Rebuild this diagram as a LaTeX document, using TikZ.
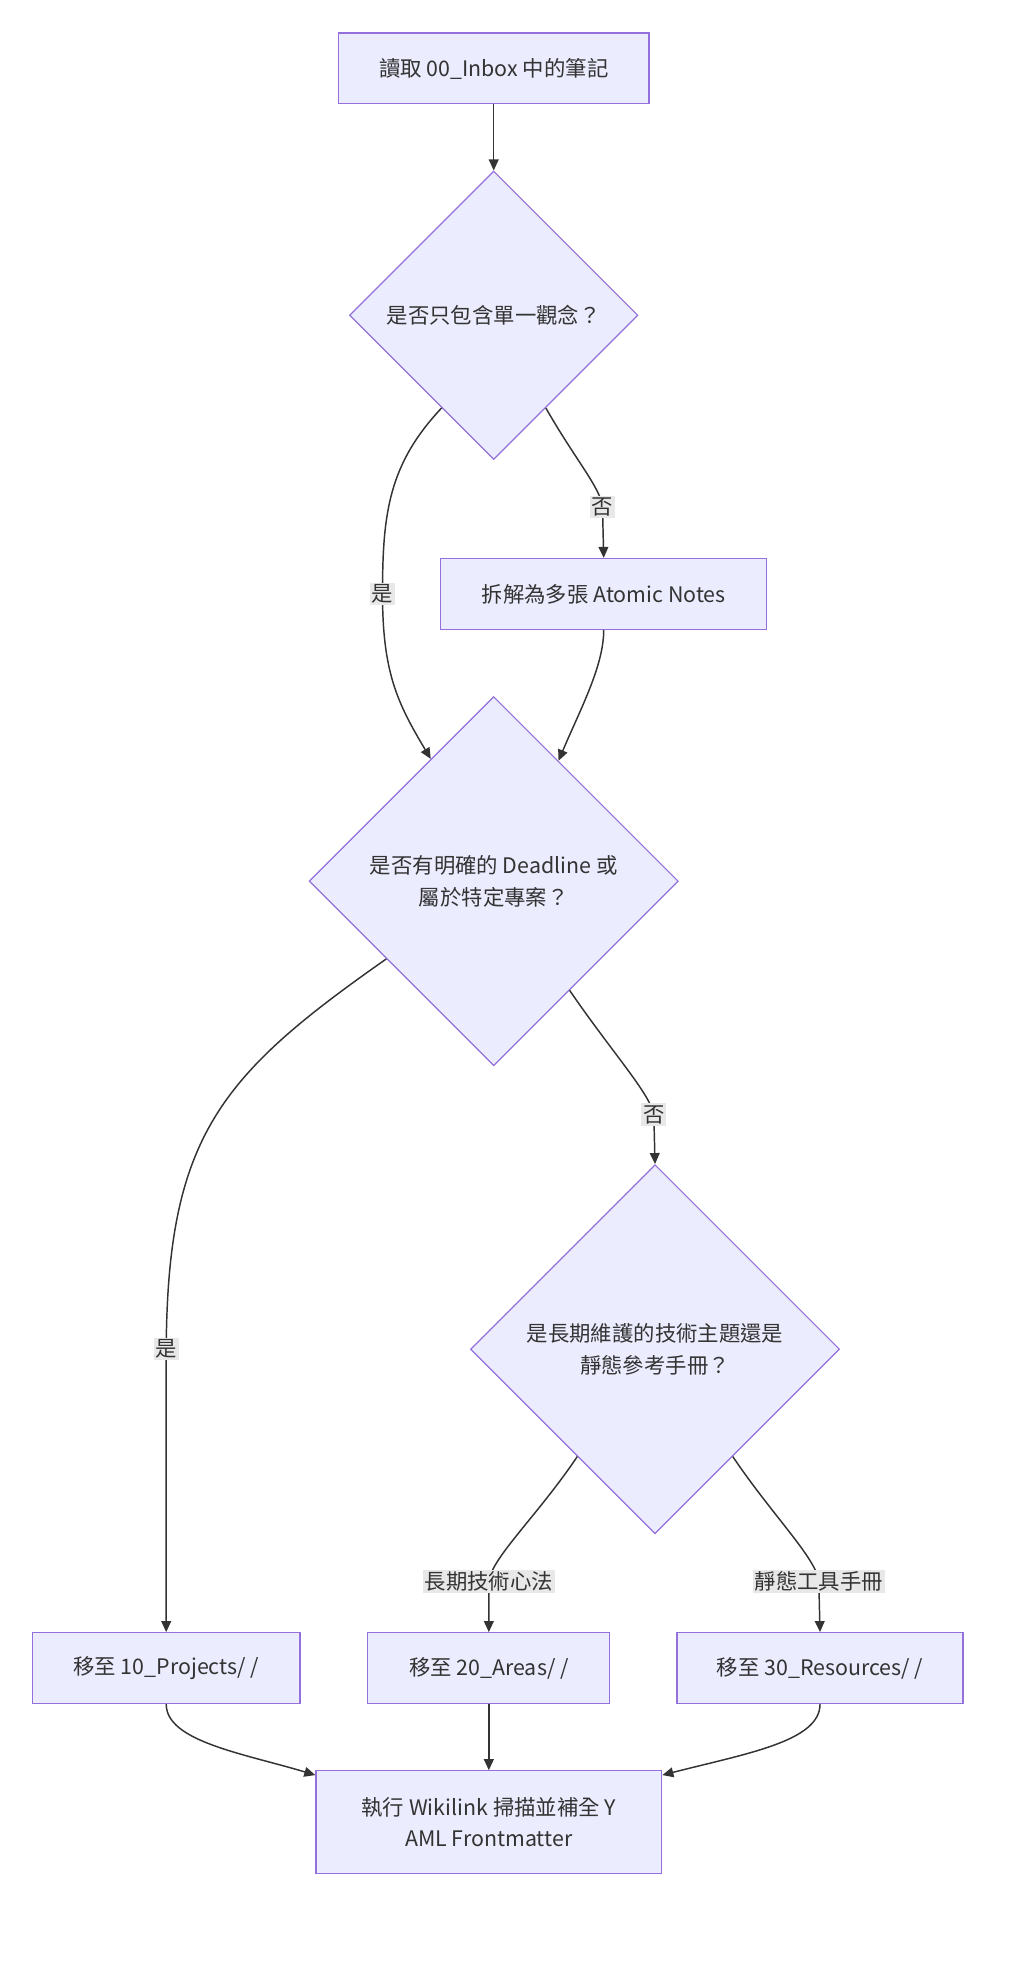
\documentclass[tikz,border=0pt]{standalone}
\usepackage{fontspec}
\setmainfont{Noto Sans CJK TC}
\usetikzlibrary{shapes.geometric,calc,arrows.meta}
\definecolor{nfill}{HTML}{ECECFF}
\definecolor{nline}{HTML}{9370DB}
\definecolor{txt}{HTML}{333333}
\definecolor{lblbg}{HTML}{E8E8E8}
\begin{document}
\begin{tikzpicture}[x=1pt,y=-1pt,
  every node/.style={font=\fontsize{17.5}{26}\selectfont,text=txt},
  box/.style={draw=nline,fill=nfill,line width=1pt,minimum height=58pt,inner sep=0pt,align=center},
  dia/.style={diamond,draw=nline,fill=nfill,line width=1pt,inner sep=0pt,align=center},
  lbl/.style={fill=lblbg,inner sep=1.5pt},
  arr/.style={draw=txt,line width=1.2pt,-{Triangle[length=9pt,width=8pt]}}]
\useasboundingbox (0,0) rectangle (838,1612);
\node[box,minimum width=254pt] (A) at (404,56) {讀取 00\_Inbox 中的筆記};
\node[dia,minimum width=236pt,minimum height=236pt] (D1) at (404,258) {是否只包含單一觀念？};
\node[box,minimum width=267pt] (B) at (494,486) {拆解為多張 Atomic Notes};
\node[dia,minimum width=302pt,minimum height=302pt] (D2) at (404,721) {是否有明確的 Deadline 或\\屬於特定專案？};
\node[dia,minimum width=302pt,minimum height=302pt] (D3) at (536,1104) {是長期維護的技術主題還是\\靜態參考手冊？};
\node[box,minimum width=219pt] (P) at (136,1365) {移至 10\_Projects/ /};
\node[box,minimum width=198pt] (Ar) at (400,1365) {移至 20\_Areas/ /};
\node[box,minimum width=234pt] (R) at (671,1365) {移至 30\_Resources/ /};
\node[box,minimum width=283pt,minimum height=84pt] (F) at (400,1491) {執行 Wikilink 掃描並補全 Y\\AML Frontmatter};

\draw[arr] (A) -- (D1);
\draw[arr] ($(D1.west)!0.64!(D1.south)$) .. controls (318,380) and (313,420) .. (313,486) node[lbl]{是}
   .. controls (313,550) and (325,575) .. ($(D2.north)!0.34!(D2.west)$);
\draw[arr] ($(D1.south)!0.36!(D1.east)$) .. controls (470,375) and (492,400) .. (493,415) node[lbl]{否} -- (B.north);
\draw[arr] (B.south) .. controls (494,545) and (475,580) .. ($(D2.north)!0.35!(D2.east)$);
\draw[arr] ($(D2.west)!0.42!(D2.south)$) .. controls (180,880) and (137,930) .. (136,1104) node[lbl]{是} -- (P.north);
\draw[arr] ($(D2.south)!0.41!(D2.east)$) .. controls (500,860) and (532,895) .. (535,912) node[lbl]{否} -- (D3.north);
\draw[arr] ($(D3.west)!0.58!(D3.south)$) .. controls (440,1240) and (402,1275) .. (400,1294) node[lbl]{長期技術心法} -- (Ar.north);
\draw[arr] ($(D3.south)!0.42!(D3.east)$) .. controls (632,1240) and (668,1275) .. (670,1294) node[lbl]{靜態工具手冊} -- (R.north);
\draw[arr] (P.south) .. controls (136,1425) and (200,1435) .. ($(F.north west)+(0,4)$);
\draw[arr] (Ar) -- (F);
\draw[arr] (R.south) .. controls (671,1425) and (610,1435) .. ($(F.north east)+(0,4)$);
\end{tikzpicture}
\end{document}
